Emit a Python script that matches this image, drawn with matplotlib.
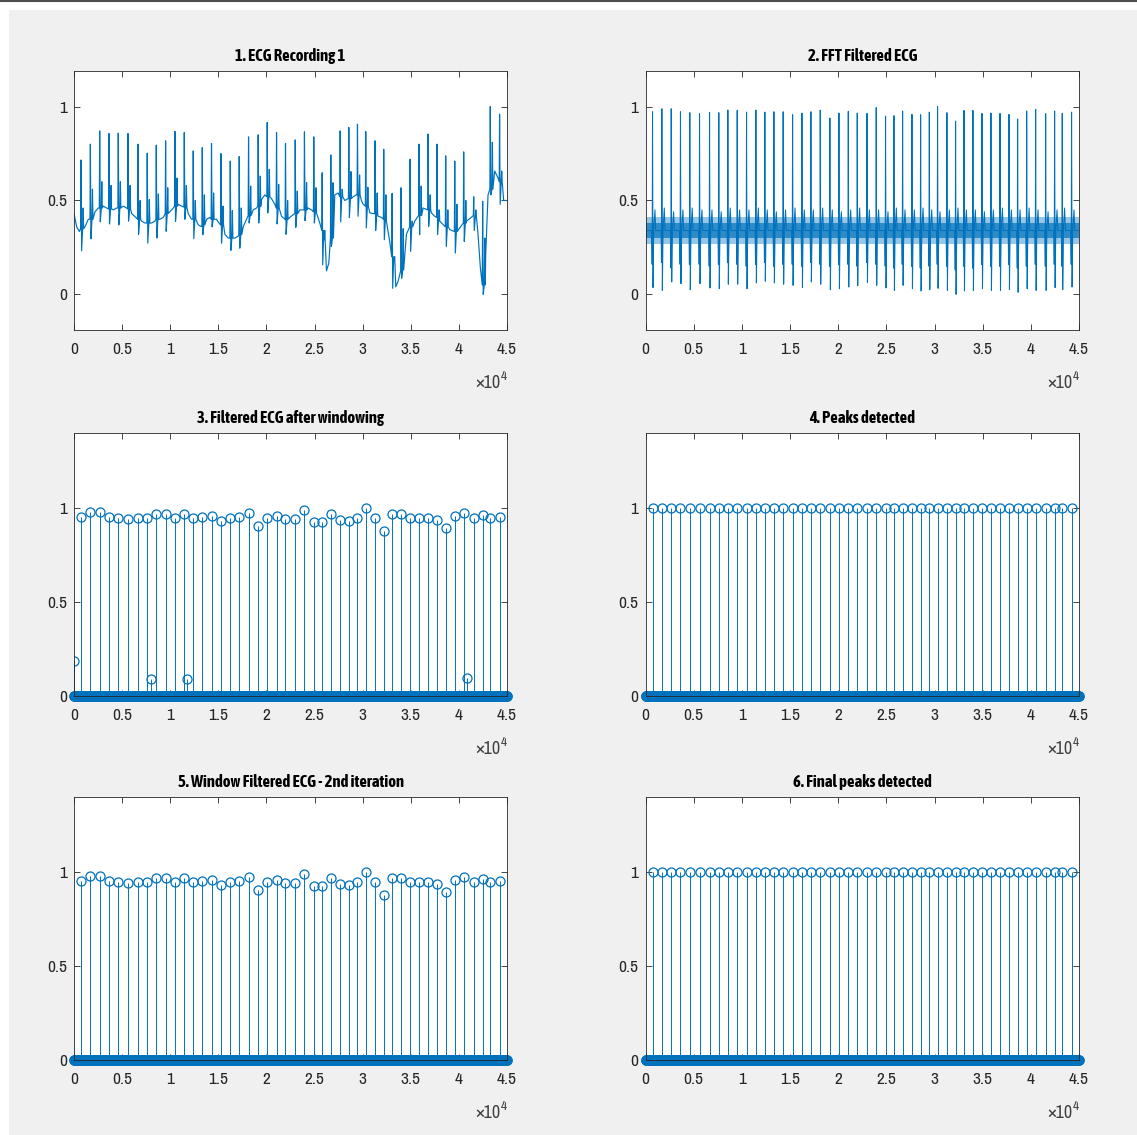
import numpy as np
import matplotlib.pyplot as plt
from matplotlib import font_manager
from matplotlib.patches import Rectangle
from matplotlib.lines import Line2D

# sample positions of the detected beats (shared by all six panels)
beats = [730, 1700, 2670, 3630, 4600, 5610, 6650, 7610, 8550, 9520,
         10490, 11460, 12390, 13330, 14290, 15270, 16240, 17170, 18140, 19140,
         20080, 21050, 21980, 22990, 23950, 24920, 25790, 26690, 27660, 28560,
         29460, 30320, 31290, 32190, 33060, 33990, 34930, 35860, 36800, 37730,
         38630, 39570, 40500, 41540, 42470, 43260, 44230]

# raw recording: level before R, R peak, S dip, following bump
ecg_q = [0.35, 0.40, 0.46, 0.455, 0.46, 0.455, 0.40, 0.38, 0.40, 0.43,
         0.47, 0.465, 0.40, 0.37, 0.40, 0.37, 0.30, 0.32, 0.42, 0.47,
         0.52, 0.46, 0.40, 0.43, 0.45, 0.44, 0.34, 0.30, 0.52, 0.51,
         0.53, 0.47, 0.43, 0.40, 0.20, 0.13, 0.36, 0.42, 0.45, 0.41,
         0.36, 0.335, 0.38, 0.42, 0.05, 0.56, 0.60]
ecg_r = [0.716, 0.80, 0.871, 0.857, 0.859, 0.857, 0.80, 0.752, 0.795, 0.818,
         0.868, 0.862, 0.764, 0.782, 0.804, 0.75, 0.71, 0.734, 0.839, 0.85,
         0.916, 0.862, 0.804, 0.823, 0.866, 0.839, 0.648, 0.743, 0.871, 0.889,
         0.907, 0.868, 0.818, 0.773, 0.538, 0.568, 0.72, 0.80, 0.854, 0.80,
         0.738, 0.71, 0.759, 0.52, 0.496, 1.0, 0.96]
ecg_s = [0.232, 0.296, 0.386, 0.375, 0.37, 0.39, 0.32, 0.273, 0.30, 0.336,
         0.389, 0.40, 0.296, 0.318, 0.36, 0.273, 0.234, 0.246, 0.38, 0.38,
         0.434, 0.375, 0.32, 0.357, 0.393, 0.38, 0.157, 0.255, 0.386, 0.41,
         0.416, 0.354, 0.34, 0.291, 0.032, 0.086, 0.229, 0.318, 0.3625, 0.318,
         0.255, 0.22, 0.282, 0.34, 0.0, 0.53, 0.48]
ecg_t = [0.46, 0.56, 0.60, 0.58, 0.60, 0.58, 0.50, 0.505, 0.535, 0.568,
         0.62, 0.58, 0.50, 0.53, 0.54, 0.47, 0.446, 0.46, 0.577, 0.63,
         0.666, 0.586, 0.50, 0.55, 0.595, 0.568, 0.29, 0.595, 0.56, 0.654,
         0.636, 0.57, 0.54, 0.53, 0.19, 0.35, 0.39, 0.577, 0.53, 0.45,
         0.45, 0.48, 0.50, 0.45, 0.30, 0.81, 0.657]

# baseline wander between beats
wander_x = [0, 277, 554, 1142, 1488, 2181, 2527, 3046, 3392, 4084,
            4430, 5123, 5469, 5988, 6334, 7027, 7373, 8065, 8411, 8931,
            9277, 9969, 10315, 10834, 11180, 11873, 12219, 12911, 13257, 13776,
            14122, 14815, 14989, 15681, 16027, 16720, 17066, 17585, 17931, 18624,
            18970, 19489, 19835, 20527, 20873, 21566, 21912, 22431, 22777, 23469,
            23815, 24334, 24681, 25200, 25546, 26239, 26481, 27104, 27450, 28143,
            28489, 29008, 29354, 29873, 30047, 30740, 31086, 31605, 31951, 32470,
            32817, 33440, 33682, 33924, 34547, 35413, 35932, 36278, 37144, 37490,
            38009, 38528, 39048, 40086, 40779, 41298, 41990, 42233, 42786, 43028,
            43721, 44067, 44655, 45000]
wander_y = [0.43, 0.36, 0.335, 0.36, 0.40, 0.44, 0.46, 0.47, 0.46, 0.45,
            0.46, 0.47, 0.46, 0.43, 0.415, 0.39, 0.38, 0.38, 0.39, 0.40,
            0.41, 0.44, 0.46, 0.48, 0.47, 0.43, 0.40, 0.37, 0.36, 0.40,
            0.41, 0.40, 0.385, 0.32, 0.30, 0.30, 0.31, 0.36, 0.40, 0.45,
            0.46, 0.505, 0.53, 0.51, 0.48, 0.416, 0.40, 0.41, 0.425, 0.45,
            0.45, 0.46, 0.45, 0.434, 0.38, 0.125, 0.166, 0.53, 0.54, 0.50,
            0.51, 0.52, 0.53, 0.50, 0.48, 0.434, 0.43, 0.416, 0.41, 0.39,
            0.28, 0.04, 0.07, 0.12, 0.32, 0.39, 0.44, 0.46, 0.434, 0.416,
            0.39, 0.3625, 0.345, 0.354, 0.39, 0.41, 0.32, 0.14, 0.21, 0.53,
            0.657, 0.62, 0.50, 0.50]

# FFT filtered signal: R peaks, S dips, Q dips, T bumps and the noisy band
fft_r = [0.973, 0.989, 0.989, 0.973, 0.968, 0.9625, 0.970, 0.968, 0.982, 0.980,
         0.971, 0.982, 0.971, 0.973, 0.973, 0.957, 0.966, 0.973, 0.982, 0.939,
         0.966, 0.975, 0.966, 0.964, 0.995, 0.950, 0.952, 0.977, 0.959, 0.957,
         0.971, 1.0, 0.968, 0.923, 0.980, 0.980, 0.964, 0.966, 0.964, 0.959,
         0.934, 0.977, 0.986, 0.9625, 0.977, 0.964, 0.971]
fft_s = [0.036, 0.021, 0.066, 0.057, 0.025, 0.057, 0.034, 0.030, 0.054, 0.054,
         0.030, 0.061, 0.070, 0.061, 0.054, 0.048, 0.036, 0.066, 0.054, 0.025,
         0.030, 0.039, 0.046, 0.064, 0.048, 0.034, 0.021, 0.048, 0.030, 0.018,
         0.025, 0.032, 0.021, 0.0, 0.018, 0.020, 0.030, 0.021, 0.021, 0.025,
         0.011, 0.030, 0.021, 0.021, 0.036, 0.025, 0.039]
fft_q = [0.16, 0.17, 0.14, 0.16, 0.16, 0.16, 0.15, 0.16, 0.17, 0.16,
         0.15, 0.16, 0.17, 0.15, 0.16, 0.16, 0.15, 0.17, 0.16, 0.15,
         0.16, 0.16, 0.15, 0.17, 0.16, 0.15, 0.14, 0.16, 0.15, 0.14,
         0.15, 0.16, 0.15, 0.13, 0.15, 0.14, 0.16, 0.15, 0.15, 0.16,
         0.14, 0.15, 0.16, 0.15, 0.16, 0.15, 0.16]
fft_t = [0.45, 0.46, 0.44, 0.45, 0.46, 0.45, 0.45, 0.44, 0.46, 0.45,
         0.45, 0.46, 0.45, 0.44, 0.45, 0.46, 0.45, 0.45, 0.46, 0.45,
         0.44, 0.45, 0.46, 0.45, 0.45, 0.44, 0.46, 0.45, 0.45, 0.46,
         0.45, 0.44, 0.45, 0.46, 0.45, 0.45, 0.44, 0.45, 0.46, 0.45,
         0.45, 0.46, 0.45, 0.44, 0.45, 0.46, 0.45]
fft_level = 0.34
band_x = [0, 45000]
band_lo = [0.27, 0.27]
band_hi = [0.41, 0.41]
core_lo = [0.30, 0.30]
core_hi = [0.38, 0.38]

# windowed peaks (3rd and 5th panel), extra small leftovers in the 3rd
win_peaks = [0.955, 0.98, 0.98, 0.955, 0.95, 0.94, 0.95, 0.945, 0.97, 0.97,
             0.95, 0.97, 0.95, 0.955, 0.96, 0.93, 0.95, 0.955, 0.975, 0.905,
             0.945, 0.96, 0.94, 0.94, 0.99, 0.925, 0.925, 0.97, 0.935, 0.93,
             0.945, 1.0, 0.95, 0.88, 0.97, 0.97, 0.945, 0.95, 0.945, 0.935,
             0.895, 0.96, 0.975, 0.95, 0.965, 0.95, 0.955]
small_x = [0, 7960, 11760, 40830]
small_y = [0.186, 0.093, 0.093, 0.098]
detected = [1.0] * len(beats)

n_samples = 45000
zero_x = np.arange(0, n_samples + 1, 45)

titles = ['1. ECG Recording 1', '2. FFT Filtered ECG',
          '3. Filtered ECG after windowing', '4. Peaks detected',
          '5. Window Filtered ECG - 2nd iteration', '6. Final peaks detected']

blue = '#0072BD'
dark = '#262626'

# prefer a condensed face (one that also ships a bold weight)
def _w(f):
    return f.weight if isinstance(f.weight, int) else 400


narrow = [f for f in font_manager.fontManager.ttflist
          if ('Narrow' in f.name or 'Condensed' in f.name) and f.style == 'normal']
bold_names = sorted({f.name for f in narrow if _w(f) >= 700})
reg_names = sorted({f.name for f in narrow if _w(f) == 400})
tick_family = (reg_names or bold_names)[:1] + ['Liberation Sans', 'DejaVu Sans']
title_family = (bold_names or reg_names)[:1] + ['Liberation Sans', 'DejaVu Sans']
plt.rcParams['font.family'] = tick_family
fs = 12.5 if narrow else 11

W, H = 1137, 1135
fig = plt.figure(figsize=(W / 100, H / 100), dpi=100, facecolor='white')
fig.patches.append(Rectangle((9 / W, 0), 1 - 9 / W, (H - 10) / H,
                             transform=fig.transFigure, facecolor='#f0f0f0',
                             edgecolor='none', zorder=-10))
fig.lines.append(Line2D([0, 1], [1 - 0.8 / H, 1 - 0.8 / H],
                        transform=fig.transFigure, color='#4d4d4d', lw=1.5,
                        zorder=-5))


def px_axes(x0, x1, y0, y1):
    return fig.add_axes([x0 / W, 1 - y1 / H, (x1 - x0) / W, (y1 - y0) / H])


cols = [(74, 507), (645.5, 1079)]
rows = [(71, 330), (433, 696), (797, 1060)]
axes = [px_axes(c[0], c[1], r[0], r[1]) for r in rows for c in cols]


def style(ax, title, ylim):
    ax.set_zorder(1)
    ax.set_xlim(0, n_samples)
    ax.set_ylim(*ylim)
    ax.set_xticks(np.arange(0, 45001, 5000))
    ax.set_xticklabels(['0', '0.5', '1', '1.5', '2', '2.5', '3', '3.5', '4', '4.5'])
    ax.set_yticks([0, 0.5, 1])
    ax.set_yticklabels(['0', '0.5', '1'])
    ax.tick_params(direction='in', length=4, width=0.6, top=True, right=True,
                   colors=dark, labelsize=fs)
    ax.tick_params(axis='x', pad=9)
    ax.tick_params(axis='y', pad=5)
    for sp in ax.spines.values():
        sp.set_color(dark)
        sp.set_linewidth(0.6)
        sp.set_zorder(5)
    ax.set_title(title, fontsize=12, fontweight='bold', family=title_family,
                 color='black', pad=7)
    ax.annotate('\u00d710', xy=(1, 0), xycoords='axes fraction', xytext=(-7, -53),
                textcoords='offset pixels', ha='right', va='center',
                fontsize=fs + 0.5, color='#404040')
    ax.annotate('4', xy=(1, 0), xycoords='axes fraction', xytext=(-6, -46),
                textcoords='offset pixels', ha='left', va='center',
                fontsize=fs - 3, color='#404040')


def stem_panel(ax, xs, ys):
    ax.vlines(xs, 0, ys, color=blue, lw=0.7)
    ax.plot(xs, ys, 'o', ms=6.5, mfc='none', mec=blue, mew=0.9)
    ax.plot(zero_x, np.zeros(len(zero_x)), 'o', ms=6.5, mfc='none', mec=blue,
            mew=1.0, clip_on=False, zorder=3)


# 1. raw recording
pts = list(zip(wander_x, wander_y))
for b, q, r, s, t in zip(beats, ecg_q, ecg_r, ecg_s, ecg_t):
    pts += [(b - 40, q), (b, r), (b + 60, s), (b + 170, q), (b + 220, t),
            (b + 270, q)]
pts.sort()
ax = axes[0]
ax.plot([p[0] for p in pts], [p[1] for p in pts], color=blue, lw=0.85)
style(ax, titles[0], (-0.19, 1.19))

# 2. FFT filtered
ax = axes[1]
ax.fill_between(band_x, band_lo, band_hi, color=blue, alpha=0.4, lw=0)
ax.fill_between(band_x, core_lo, core_hi, color=blue, alpha=0.7, lw=0)
pts = [(0, fft_level), (n_samples, fft_level)]
for b, q, r, s, t in zip(beats, fft_q, fft_r, fft_s, fft_t):
    pts += [(b - 80, fft_level), (b - 40, q), (b, r), (b + 50, s),
            (b + 120, fft_level), (b + 250, t), (b + 330, fft_level)]
pts.sort()
ax.plot([p[0] for p in pts], [p[1] for p in pts], color=blue, lw=0.75)
style(ax, titles[1], (-0.19, 1.19))

# 3. after windowing
stem_panel(axes[2], beats + small_x, win_peaks + small_y)
style(axes[2], titles[2], (0, 1.4))

# 4. peaks detected
stem_panel(axes[3], beats, detected)
style(axes[3], titles[3], (0, 1.4))

# 5. second window pass
stem_panel(axes[4], beats, win_peaks)
style(axes[4], titles[4], (0, 1.4))

# 6. final peaks
stem_panel(axes[5], beats, detected)
style(axes[5], titles[5], (0, 1.4))

fig.savefig('out.png', dpi=100, facecolor=fig.get_facecolor())
